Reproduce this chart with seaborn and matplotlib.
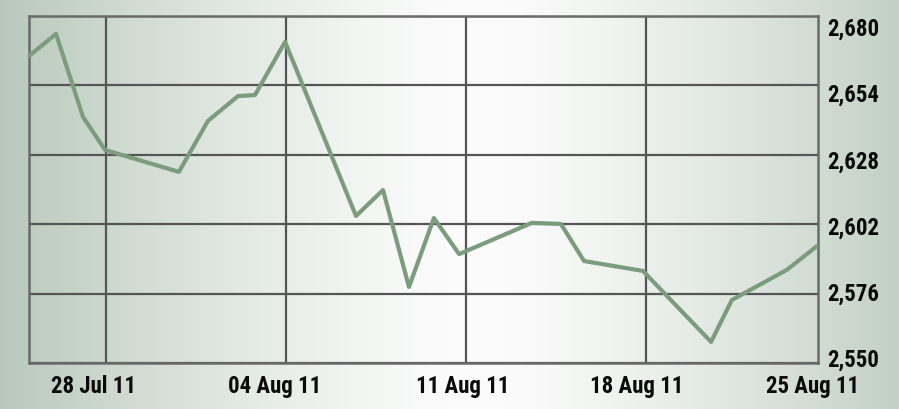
import numpy as np
import pandas as pd
import matplotlib
matplotlib.use("Agg")
import matplotlib.pyplot as plt
from matplotlib import font_manager
import seaborn as sns

# ---- data (x = days since 25 Jul 2011) ----
days = [0.0, 1.05, 2.10, 2.96, 5.83, 6.96, 8.13, 8.79, 9.96, 12.72, 13.77,
        14.78, 15.75, 16.73, 19.56, 20.69, 21.59, 23.88, 26.53, 27.34, 29.48, 30.65]
values = [2665.0, 2673.3, 2642.2, 2629.8, 2621.6, 2640.7, 2650.0, 2650.4, 2670.3,
          2605.1, 2614.8, 2578.5, 2604.3, 2590.8, 2602.5, 2602.1, 2588.2, 2584.5,
          2557.9, 2573.6, 2584.9, 2593.8]
x_tick_labels = ["28 Jul 11", "04 Aug 11", "11 Aug 11", "18 Aug 11", "25 Aug 11"]
x_grid_days = [3, 10, 17, 24]
y_grid_values = [2550, 2576, 2602, 2628, 2654, 2680]
y_tick_labels = ["2,550", "2,576", "2,602", "2,628", "2,654", "2,680"]

df = pd.DataFrame({"day": days, "value": values})

sns.set_theme(style="white")
installed = {f.name for f in font_manager.fontManager.ttflist}
family = "DejaVu Sans"
for cand in ["Liberation Sans Narrow", "DejaVu Sans Condensed", "Roboto Condensed", "Roboto", "Lato"]:
    if cand in installed:
        family = cand
        break
plt.rcParams["font.family"] = [family, "DejaVu Sans"]

W, H = 899, 410
fig = plt.figure(figsize=(W / 100, H / 100), dpi=100)

# background gradient
bg = fig.add_axes([0, 0, 1, 1], zorder=0)
bg.axis("off")
xs = np.linspace(0, 1, W)
t = np.clip(np.abs(xs - 0.53) / 0.53, 0, 1)
edge = np.array([184, 201, 186]) / 255
white = np.array([252, 252, 252]) / 255
w = t ** 1.4
row = white[None, :] * (1 - w)[:, None] + edge[None, :] * w[:, None]
img = np.tile(row[None, :, :], (10, 1, 1))
bg.imshow(img, aspect="auto", extent=[0, 1, 0, 1])

ax = fig.add_axes([29 / W, 1 - 364 / H, (818 - 29) / W, (364 - 17) / H], zorder=1)
ax.set_facecolor("none")

grid_color = "#555555"
for d in x_grid_days:
    ax.axvline(d, color=grid_color, lw=1.6, zorder=1)
for v in y_grid_values:
    ax.axhline(v, color=grid_color, lw=1.6, zorder=1)

sns.lineplot(data=df, x="day", y="value", ax=ax, color="#7c9c7e", lw=3.0, zorder=3)

ax.set_xlim(0, 30.69)
ax.set_ylim(2550, 2680)

for s in ax.spines.values():
    s.set_visible(True)
    s.set_color("#6a6a6a")
    s.set_linewidth(1.8)

ax.yaxis.tick_right()
ax.set_yticks(np.linspace(2552.3, 2676.3, 6))
ax.set_yticklabels(y_tick_labels)
ax.set_xticks([2.49, 9.57, 16.88, 23.65, 30.49])
ax.set_xticklabels(x_tick_labels)
ax.set_xlabel("")
ax.set_ylabel("")
ax.tick_params(axis="both", length=0, labelsize=16.5, colors="#0a0a0a")
ax.tick_params(axis="x", pad=8)
ax.tick_params(axis="y", pad=7)
for lab in ax.get_xticklabels() + ax.get_yticklabels():
    lab.set_fontweight("bold")

fig.savefig("out.png", dpi=100)
